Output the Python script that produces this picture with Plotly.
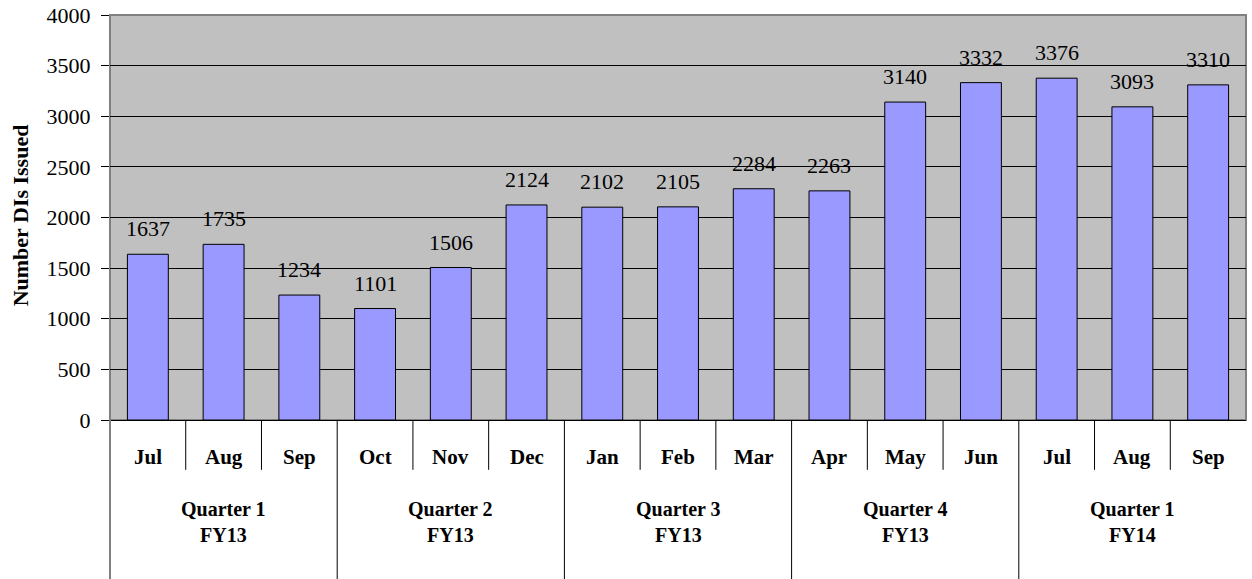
import plotly.graph_objects as go

months = ["Jul", "Aug", "Sep", "Oct", "Nov", "Dec", "Jan", "Feb", "Mar",
          "Apr", "May", "Jun", "Jul", "Aug", "Sep"]
quarters = ["Quarter 1<br>FY13", "Quarter 2<br>FY13", "Quarter 3<br>FY13",
            "Quarter 4<br>FY13", "Quarter 1<br>FY14"]
dis_issued = [1637, 1735, 1234, 1101, 1506, 2124, 2102, 2105, 2284,
              2263, 3140, 3332, 3376, 3093, 3310]
y_ticks = [0, 500, 1000, 1500, 2000, 2500, 3000, 3500, 4000]

FONT = "Liberation Serif, Times New Roman, serif"
idx = list(range(len(months)))

fig = go.Figure()
fig.add_trace(go.Bar(
    x=idx, y=dis_issued,
    marker=dict(color="#9999FF", line=dict(color="black", width=1)),
))

# value labels above the bars
for i, v in zip(idx, dis_issued):
    fig.add_annotation(x=i, y=v, text=str(v), showarrow=False, yanchor="bottom", yshift=11,
                       font=dict(family=FONT, size=22, color="black"))

# category table under the plot (months + quarters)
bottom = -0.395
for i, m in enumerate(months):
    fig.add_annotation(x=i, y=-0.0914, xref="x", yref="paper", text=f"<b>{m}</b>",
                       yanchor="middle", xanchor="center",
                       showarrow=False, font=dict(family=FONT, size=21, color="black"))
    if i < len(months) - 1:
        quarter_edge = (i + 1) % 3 == 0
        fig.add_shape(type="line", xref="x", yref="paper", x0=i + 0.5, x1=i + 0.5,
                      y0=0, y1=bottom if quarter_edge else -0.123,
                      line=dict(color="black", width=1))
for q, label in enumerate(quarters):
    fig.add_annotation(x=q * 3 + 1, y=-0.252, xref="x", yref="paper", text=f"<b>{label}</b>",
                       yanchor="middle", xanchor="center",
                       showarrow=False, font=dict(family=FONT, size=20, color="black"))
fig.add_shape(type="line", xref="paper", yref="paper", x0=0, x1=0, y0=0, y1=bottom,
              line=dict(color="#808080", width=2))
# plot area border
fig.add_shape(type="rect", xref="paper", yref="paper", x0=0, x1=1, y0=0, y1=1,
              line=dict(color="#808080", width=2), layer="below")
# y axis title
fig.add_annotation(x=-0.079, y=0.506, xref="paper", yref="paper", text="<b>Number DIs Issued</b>",
                   textangle=-90, xanchor="center", yanchor="middle",
                   showarrow=False, font=dict(family=FONT, size=22, color="black"))

fig.update_layout(
    width=1252, height=579,
    margin=dict(l=110, r=6, t=15, b=159),
    paper_bgcolor="white", plot_bgcolor="#C0C0C0",
    bargap=0.46, showlegend=False,
    font=dict(family=FONT, color="black"),
)
fig.update_xaxes(range=[-0.5, len(months) - 0.5], showticklabels=False, showgrid=False,
                 zeroline=False, ticks="", automargin=False)
fig.update_yaxes(range=[0, 4000], tickvals=y_ticks, ticks="outside", ticklen=8,
                 tickcolor="black", tickfont=dict(family=FONT, size=22, color="black"),
                 ticklabelstandoff=6, ticklabeloverflow="allow",
                 showgrid=True, gridcolor="black", gridwidth=1, automargin=False,
                 zeroline=True, zerolinecolor="black", zerolinewidth=1)

# drop the default page margin so the figure fills the window exactly
fig.write_html("out.html", config={"displayModeBar": False},
               post_script="document.body.style.margin = '0';")
